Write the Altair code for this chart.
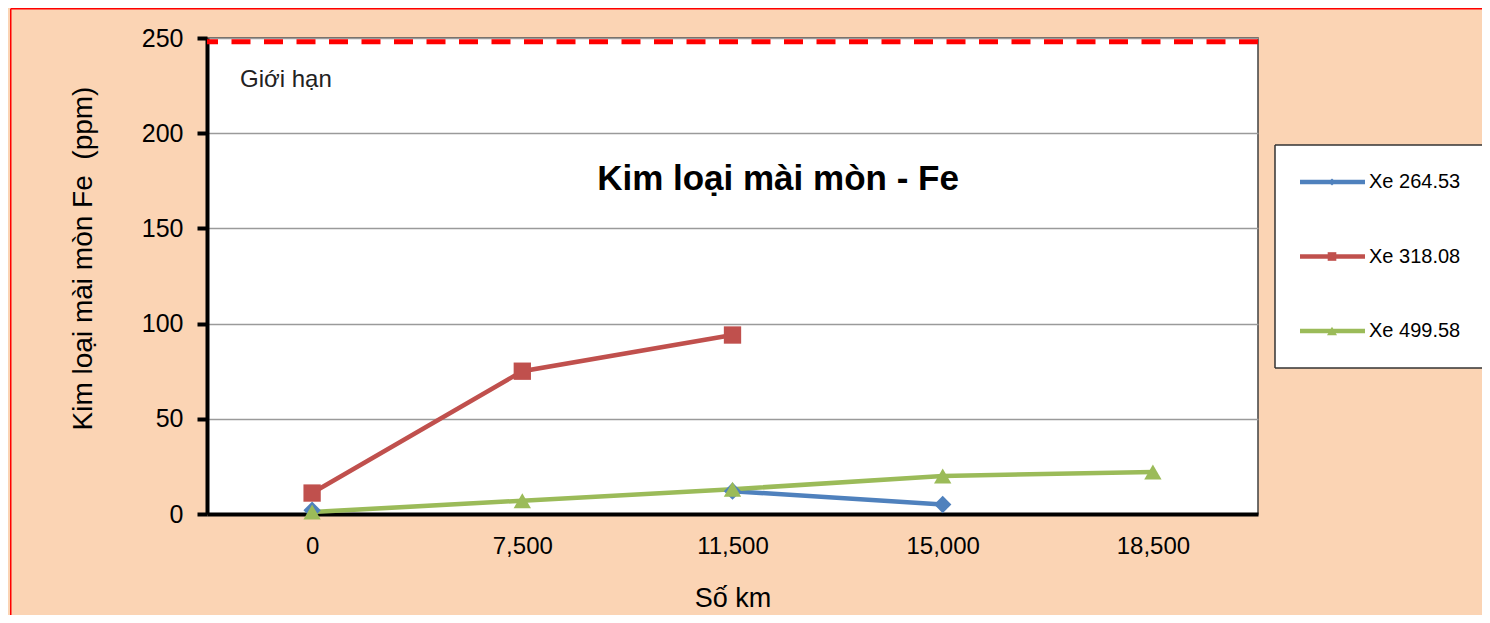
import altair as alt
import pandas as pd

# ---- data ----
KM = ["0", "7,500", "11,500", "15,000", "18,500"]
SERIES = ["Xe 264.53", "Xe 318.08", "Xe 499.58"]
XE_264_53 = [2, None, 12, 5, None]
XE_318_08 = [11, 75, 94, None, None]
XE_499_58 = [1, 7, 13, 20, 22]
LIMIT = [248]
LIMIT_LABEL = "Giới hạn"
Y_TICKS = [0, 50, 100, 150, 200, 250]
COLORS = ["#4F81BD", "#C0504D", "#9BBB59"]
SHAPES = ["diamond", "square", "triangle-up"]

rows = []
for name, vals in zip(SERIES, [XE_264_53, XE_318_08, XE_499_58]):
    seg = 0
    for km, v in zip(KM, vals):
        if v is None:
            seg += 1
            continue
        rows.append({"series": name, "km": km, "value": v, "seg": seg})
df = pd.DataFrame(rows)

W, H = 1051, 476
CANVAS_W, CANVAS_H = 1474, 607
PAD_L, PAD_T = 199, 30
RIGHT_EDGE = CANVAS_W - PAD_L  # right edge of the canvas, in plot coordinates
FONT = "Liberation Sans"

color = alt.Color("series:N", scale=alt.Scale(domain=SERIES, range=COLORS), legend=None)
shape = alt.Shape("series:N", scale=alt.Scale(domain=SERIES, range=SHAPES), legend=None)

x = alt.X("km:N", sort=KM, scale=alt.Scale(type="point", padding=0.5),
          axis=alt.Axis(title="Số km", labelAngle=0, ticks=False, grid=False,
                        domainColor="black", domainWidth=4,
                        labelFontSize=24, labelColor="black", labelPadding=20,
                        titleFontSize=27, titleFontWeight="normal", titleColor="black",
                        titlePadding=27))
y_axis = alt.Axis(title="Kim loại mài mòn Fe \u00a0(ppm)", values=Y_TICKS,
                  grid=True, gridColor="#9a9a9a", gridWidth=1.5,
                  domainColor="black", domainWidth=4,
                  tickColor="black", tickWidth=4, tickSize=10,
                  labelFontSize=25, labelColor="black", labelPadding=14,
                  titleFontSize=28, titleFontWeight="normal", titleColor="black",
                  titleX=-110, titleY=220)
y_scale = alt.Scale(domain=[0, 250], nice=False)
y = alt.Y("value:Q", scale=y_scale, axis=y_axis)

base = alt.Chart(df)
lines = base.mark_line(strokeWidth=4.5).encode(x=x, y=y, color=color, detail="seg:N")
points = base.mark_point(filled=True, opacity=1, size=300).encode(x=x, y=y, color=color, shape=shape)

limit_df = pd.DataFrame({"value": LIMIT})
limit_rule = alt.Chart(limit_df).mark_rule(color="#FF0000", strokeWidth=5, strokeDash=[19, 13.5]).encode(y=y)

one = pd.DataFrame({"t": [0]})
title_txt = alt.Chart(one).mark_text(text="Kim loại mài mòn - Fe", fontSize=35, fontWeight="bold",
                                     font=FONT, color="black", align="center", baseline="alphabetic").encode(
    x=alt.value(571), y=alt.value(152))
limit_txt = alt.Chart(one).mark_text(text=LIMIT_LABEL, fontSize=24, font=FONT, color="#222222",
                                     align="left", baseline="alphabetic").encode(
    x=alt.value(33), y=alt.value(49))

# outer red frame (left and top edges; the others fall outside the picture)
frame_left = alt.Chart(one).mark_rule(color="#FF0000", strokeWidth=1.5).encode(
    x=alt.value(-196.25), y=alt.value(-29.25), y2=alt.value(CANVAS_H - PAD_T))
frame_top = alt.Chart(one).mark_rule(color="#FF0000", strokeWidth=1.5).encode(
    x=alt.value(-196.25), x2=alt.value(RIGHT_EDGE), y=alt.value(-29.25))

main = alt.layer(lines, points, limit_rule, title_txt, limit_txt)

# ---- legend (drawn from the series list) ----
leg_df = pd.DataFrame({"series": SERIES})
leg_y = alt.Y("series:N", scale=alt.Scale(type="point", domain=SERIES, range=[144, 293], padding=0), axis=None)
BOX_L, BOX_T, BOX_B = 1068, 107, 330
leg_box = alt.Chart(one).mark_rect(fill="white").encode(
    x=alt.value(BOX_L), x2=alt.value(RIGHT_EDGE), y=alt.value(BOX_T), y2=alt.value(BOX_B))
box_l = alt.Chart(one).mark_rule(color="#333333", strokeWidth=1.5).encode(
    x=alt.value(BOX_L), y=alt.value(BOX_T), y2=alt.value(BOX_B))
box_t = alt.Chart(one).mark_rule(color="#333333", strokeWidth=1.5).encode(
    x=alt.value(BOX_L), x2=alt.value(RIGHT_EDGE), y=alt.value(BOX_T))
box_b = alt.Chart(one).mark_rule(color="#333333", strokeWidth=1.5).encode(
    x=alt.value(BOX_L), x2=alt.value(RIGHT_EDGE), y=alt.value(BOX_B))
leg_lines = alt.Chart(leg_df).mark_rule(strokeWidth=4.5).encode(
    x=alt.value(1093), x2=alt.value(1158), y=leg_y, color=color)
leg_points = alt.Chart(leg_df).mark_point(filled=True, opacity=1).encode(
    x=alt.value(1125), y=leg_y, color=color, shape=shape,
    size=alt.Size("series:N", scale=alt.Scale(domain=SERIES, range=[49, 100, 100]), legend=None))
leg_text = alt.Chart(leg_df).mark_text(fontSize=20, font=FONT, color="black", align="left", baseline="middle").encode(
    x=alt.value(1162), y=leg_y, text="series:N")
legend = alt.layer(leg_box, box_l, box_t, box_b, leg_lines, leg_points, leg_text)

chart = alt.layer(main, legend, frame_left, frame_top).resolve_scale(y="independent").properties(
    width=W, height=H,
    autosize=alt.AutoSizeParams(type="none"),
    padding={"left": PAD_L, "top": PAD_T, "right": CANVAS_W - PAD_L - W, "bottom": CANVAS_H - PAD_T - H},
).configure(
    background="#FBD4B4", font=FONT
).configure_view(
    fill="white", stroke="#404040", strokeWidth=1.5
)

chart.save("out.html", embed_options={"renderer": "svg", "actions": False})
